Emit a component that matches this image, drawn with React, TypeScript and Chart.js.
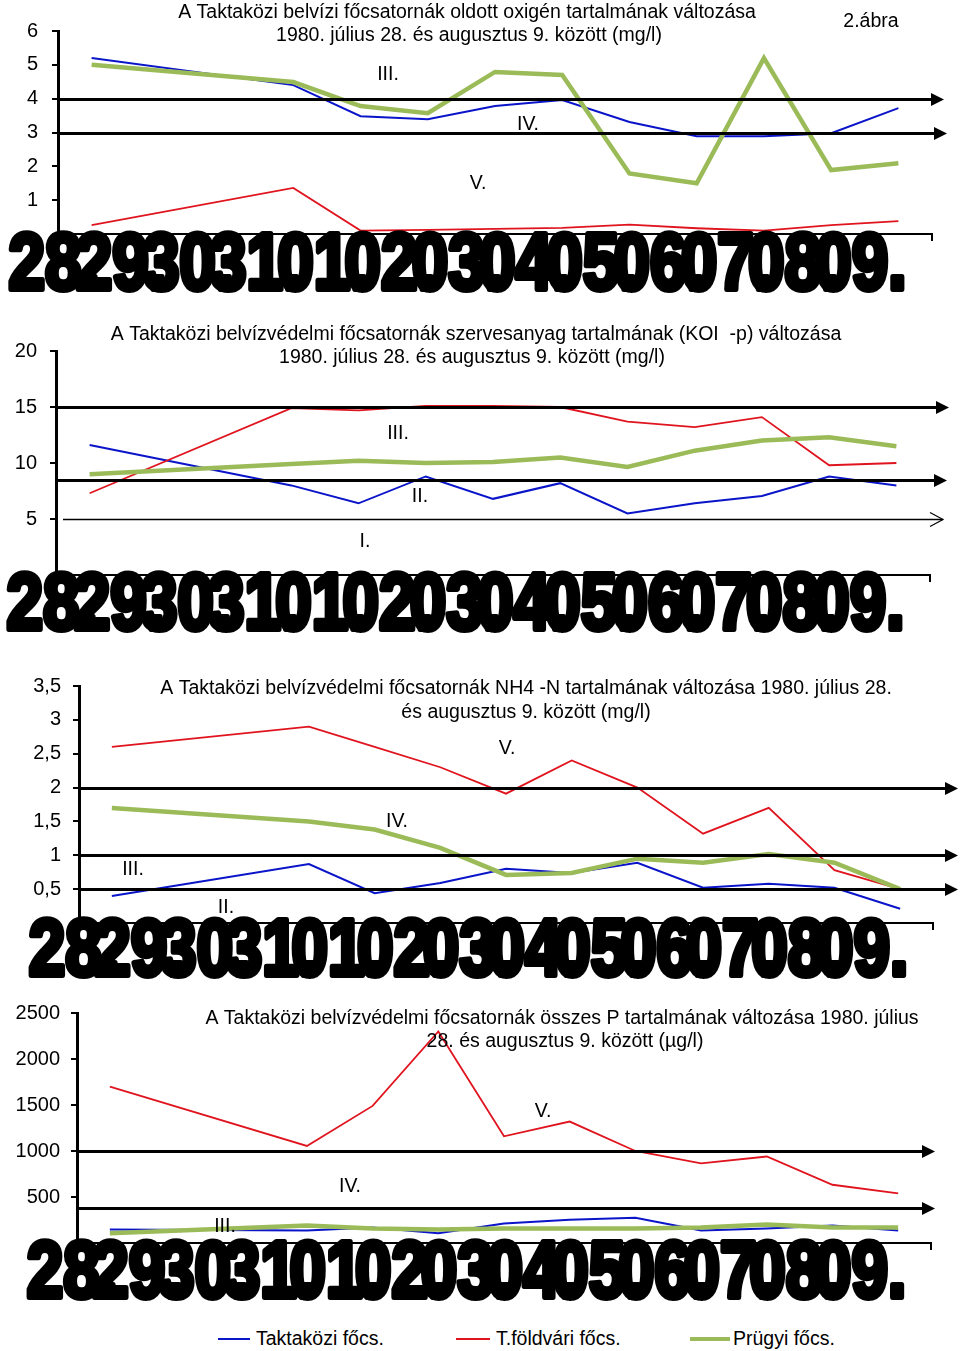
import React, { useEffect, useRef } from "react";
import { Chart, registerables } from "chart.js";
Chart.register(...registerables);

const FONT = "'Liberation Sans', Arial, sans-serif";

// 13 sampling days: 1980. júl. 28 – aug. 9
const dayLabels = ["28.", "29.", "30.", "31.", "01.", "02.", "03.", "04.", "05.", "06.", "07.", "08.", "09."];
const seriesNames = ["Taktaközi főcs.", "T.földvári főcs.", "Prügyi főcs."];

// Oldott oxigén (mg/l)
const o2Taktakozi = [5.2, null, null, 4.4, 3.48, 3.39, 3.78, 3.96, 3.31, 2.89, 2.89, 2.98, 3.72];
const o2Tfoldvari = [0.26, null, null, 1.36, 0.1, 0.12, 0.15, 0.18, 0.28, 0.17, 0.1, 0.26, 0.38];
const o2Prugyi = [5.0, null, null, 4.49, 3.78, 3.57, 4.79, 4.7, 1.79, 1.5, 5.2, 1.89, 2.09];

// KOI-p (mg/l)
const koiTaktakozi = [11.6, null, null, 8.0, 6.4, 8.8, 6.8, 8.2, 5.5, 6.4, 7.05, 8.8, 8.0];
const koiTfoldvari = [7.3, null, null, 14.9, 14.7, 15.1, 15.1, 15.0, 13.7, 13.2, 14.1, 9.8, 10.0];
const koiPrugyi = [9.0, null, null, 9.9, 10.2, 10.0, 10.1, 10.5, 9.65, 11.1, 12.0, 12.3, 11.5];

// NH4-N (mg/l)
const nh4Taktakozi = [0.4, null, null, 0.87, 0.44, 0.59, 0.8, 0.74, 0.89, 0.52, 0.58, 0.52, 0.21];
const nh4Tfoldvari = [2.6, null, null, 2.9, 2.6, 2.3, 1.91, 2.4, 2.0, 1.32, 1.7, 0.78, 0.5];
const nh4Prugyi = [1.7, null, null, 1.5, 1.38, 1.11, 0.71, 0.74, 0.95, 0.89, 1.02, 0.89, 0.5];

// összes P (µg/l)
const pTaktakozi = [148, null, null, 137, 169, 105, 211, 253, 274, 137, 158, 190, 137];
const pTfoldvari = [1700, null, null, 1055, 1490, 2300, 1160, 1320, 1000, 865, 940, 633, 540];
const pPrugyi = [105, null, null, 190, 158, 148, 158, 158, 158, 169, 200, 169, 169];

// class limits (I.–V.)
const o2Limits = [4, 3];
const koiLimits = [15, 8.5, 5];
const nh4Limits = [2, 1, 0.5];
const pLimits = [1000, 380];

const COLORS = { blue: "#0a14c8", red: "#e0141e", green: "#9bbb59" };

type Thr = { value: number; width: number; tip: number; open?: boolean; x0?: number };
type Txt = { text: string; x: number; y: number };
type Panel = {
  top: number; height: number; left: number; right: number; areaTop: number; areaBottom: number;
  yMax: number; yStep: number; tickPad: number;
  blue: (number | null)[]; red: (number | null)[]; green: (number | null)[];
  thresholds: Thr[]; titles: Txt[]; marks: Txt[]; bandBaseline: number;
};

const panels: Panel[] = [
  {
    top: 0, height: 300, left: 58, right: 932, areaTop: 31, areaBottom: 234,
    yMax: 6, yStep: 1, tickPad: 14,
    blue: o2Taktakozi, red: o2Tfoldvari, green: o2Prugyi,
    thresholds: [
      { value: o2Limits[0], width: 3, tip: 944 },
      { value: o2Limits[1], width: 3, tip: 947 },
    ],
    titles: [
      { text: "A Taktaközi belvízi főcsatornák oldott oxigén tartalmának változása", x: 467, y: 18 },
      { text: "1980. július 28. és augusztus 9. között (mg/l)", x: 469, y: 41 },
      { text: "2.ábra", x: 871, y: 27 },
    ],
    marks: [
      { text: "III.", x: 388, y: 80 },
      { text: "IV.", x: 528, y: 130 },
      { text: "V.", x: 478, y: 189 },
    ],
    bandBaseline: 289,
  },
  {
    top: 300, height: 345, left: 56, right: 930, areaTop: 351, areaBottom: 575,
    yMax: 20, yStep: 5, tickPad: 13,
    blue: koiTaktakozi, red: koiTfoldvari, green: koiPrugyi,
    thresholds: [
      { value: koiLimits[0], width: 3, tip: 949 },
      { value: koiLimits[1], width: 3, tip: 947 },
      { value: koiLimits[2], width: 1.3, tip: 943, open: true, x0: 63 },
    ],
    titles: [
      { text: "A Taktaközi belvízvédelmi főcsatornák szervesanyag tartalmának (KOI  -p) változása", x: 476, y: 339.5 },
      { text: "1980. július 28. és augusztus 9. között (mg/l)", x: 472, y: 362.5 },
    ],
    marks: [
      { text: "III.", x: 398, y: 439 },
      { text: "II.", x: 420, y: 502 },
      { text: "I.", x: 365, y: 547 },
    ],
    bandBaseline: 629,
  },
  {
    top: 650, height: 335, left: 79, right: 933, areaTop: 686, areaBottom: 923,
    yMax: 3.5, yStep: 0.5, tickPad: 12,
    blue: nh4Taktakozi, red: nh4Tfoldvari, green: nh4Prugyi,
    thresholds: [
      { value: nh4Limits[0], width: 3, tip: 958 },
      { value: nh4Limits[1], width: 3, tip: 958 },
      { value: nh4Limits[2], width: 3, tip: 958 },
    ],
    titles: [
      { text: "A Taktaközi belvízvédelmi főcsatornák NH4 -N tartalmának változása 1980. július 28.", x: 526, y: 693.5 },
      { text: "és augusztus 9. között (mg/l)", x: 526, y: 717.5 },
    ],
    marks: [
      { text: "V.", x: 507, y: 754 },
      { text: "IV.", x: 397, y: 827 },
      { text: "III.", x: 133, y: 875 },
      { text: "II.", x: 226, y: 913 },
    ],
    bandBaseline: 975,
  },
  {
    top: 990, height: 320, left: 77, right: 931, areaTop: 1006, areaBottom: 1243,
    yMax: 2500, yStep: 500, tickPad: 11,
    blue: pTaktakozi, red: pTfoldvari, green: pPrugyi,
    thresholds: [
      { value: pLimits[0], width: 3, tip: 935 },
      { value: pLimits[1], width: 3, tip: 935 },
    ],
    titles: [
      { text: "A Taktaközi belvízvédelmi főcsatornák összes P tartalmának változása 1980. július", x: 562, y: 1023.5 },
      { text: "28. és augusztus 9. között (µg/l)", x: 565, y: 1046.5 },
    ],
    marks: [
      { text: "V.", x: 543, y: 1117 },
      { text: "IV.", x: 350, y: 1192 },
      { text: "III.", x: 225, y: 1232 },
    ],
    bandBaseline: 1297,
  },
];

function PanelChart({ p }: { p: Panel }) {
  const ref = useRef<HTMLCanvasElement>(null);
  useEffect(() => {
    const canvas = ref.current!;
    const off = p.top;
    const overlay = {
      id: "overlay",
      afterDatasetsDraw(chart: any) {
        const ctx = chart.ctx;
        const ys = chart.scales.y;
        const area = chart.chartArea;
        ctx.save();
        ctx.strokeStyle = "#000";
        ctx.fillStyle = "#000";
        for (const t of p.thresholds) {
          const py = Math.round(ys.getPixelForValue(t.value)) + 0.5;
          const x0 = t.x0 ?? area.left;
          ctx.lineWidth = t.width;
          ctx.beginPath();
          ctx.moveTo(x0, py);
          ctx.lineTo(t.open ? t.tip : t.tip - 12, py);
          ctx.stroke();
          if (t.open) {
            ctx.lineWidth = 1.2;
            ctx.beginPath();
            ctx.moveTo(t.tip - 13, py - 7);
            ctx.lineTo(t.tip, py);
            ctx.lineTo(t.tip - 13, py + 7);
            ctx.stroke();
          } else {
            ctx.beginPath();
            ctx.moveTo(t.tip, py);
            ctx.lineTo(t.tip - 13, py - 6.5);
            ctx.lineTo(t.tip - 13, py + 6.5);
            ctx.closePath();
            ctx.fill();
          }
        }
        ctx.restore();
      },
      afterDraw(chart: any) {
        const ctx = chart.ctx;
        const xs = chart.scales.x;
        const area = chart.chartArea;
        ctx.save();
        // end tick of x axis
        ctx.strokeStyle = "#000";
        ctx.lineWidth = 2;
        ctx.beginPath();
        ctx.moveTo(area.right, area.bottom);
        ctx.lineTo(area.right, area.bottom + 7);
        ctx.stroke();
        // titles & class marks
        ctx.fillStyle = "#000";
        ctx.textAlign = "center";
        ctx.textBaseline = "alphabetic";
        ctx.font = `19.5px ${FONT}`;
        for (const t of p.titles) ctx.fillText(t.text, t.x, t.y - off);
        for (const t of p.marks) ctx.fillText(t.text, t.x, t.y - off);
        // oversized category labels
        ctx.font = `bold 80px ${FONT}`;
        ctx.textAlign = "right";
        ctx.lineWidth = 6;
        ctx.lineJoin = "round";
        dayLabels.forEach((lab, i) => {
          const x = xs.getPixelForValue(i);
          ctx.save();
          ctx.translate(x + 8, p.bandBaseline - off);
          ctx.scale(0.82, 1);
          ctx.strokeText(lab, 0, 0);
          ctx.fillText(lab, 0, 0);
          ctx.restore();
        });
        ctx.restore();
      },
    };
    const chart = new Chart(canvas, {
      type: "line",
      data: {
        labels: dayLabels,
        datasets: [
          { label: seriesNames[2], data: p.green, borderColor: COLORS.green, borderWidth: 4.5, pointRadius: 0, spanGaps: true },
          { label: seriesNames[1], data: p.red, borderColor: COLORS.red, borderWidth: 1.8, pointRadius: 0, spanGaps: true },
          { label: seriesNames[0], data: p.blue, borderColor: COLORS.blue, borderWidth: 2, pointRadius: 0, spanGaps: true },
        ],
      },
      options: {
        responsive: false,
        animation: false,
        devicePixelRatio: 1,
        layout: { padding: { left: 0, right: 960 - p.right, top: p.areaTop - p.top, bottom: 0 } },
        plugins: { legend: { display: false }, tooltip: { enabled: false }, title: { display: false } },
        scales: {
          x: {
            type: "category",
            offset: true,
            grid: { display: false },
            border: { display: true, color: "#000", width: 2 },
            ticks: { display: false },
            afterFit: (s: any) => { s.height = p.height - (p.areaBottom - p.top); },
          },
          y: {
            min: 0,
            max: p.yMax,
            ticks: {
              stepSize: p.yStep,
              color: "#000",
              padding: p.tickPad,
              font: { family: FONT, size: 20 },
              callback: (v: any) => (v === 0 ? "" : String(v).replace(".", ",")),
            },
            grid: { display: true, drawOnChartArea: false, drawTicks: true, tickLength: 6, color: "#000", lineWidth: 2 },
            border: { display: true, color: "#000", width: 3 },
            afterFit: (s: any) => { s.width = p.left; },
          },
        },
      } as any,
      plugins: [overlay],
    });
    return () => chart.destroy();
  }, [p]);
  return (
    <canvas
      ref={ref}
      width={960}
      height={p.height}
      style={{ position: "absolute", left: 0, top: p.top, width: 960, height: p.height }}
    />
  );
}

const legendItems = [
  { name: seriesNames[0], color: COLORS.blue, lineX: 218, lineW: 32, thick: 2, textX: 256 },
  { name: seriesNames[1], color: COLORS.red, lineX: 456, lineW: 34, thick: 2, textX: 496 },
  { name: seriesNames[2], color: COLORS.green, lineX: 690, lineW: 40, thick: 4, textX: 733 },
];

export default function App() {
  return (
    <div style={{ position: "absolute", left: 0, top: 0, width: 960, height: 1351, background: "#fff", overflow: "hidden" }}>
      {panels.map((p, i) => (
        <PanelChart key={i} p={p} />
      ))}
      {legendItems.map((it) => (
        <React.Fragment key={it.name}>
          <div style={{ position: "absolute", left: it.lineX, top: 1339 - it.thick / 2, width: it.lineW, height: it.thick, background: it.color }} />
          <span style={{ position: "absolute", left: it.textX, top: 1328, fontFamily: FONT, fontSize: 19.5, lineHeight: "20px", color: "#000", whiteSpace: "nowrap" }}>
            {it.name}
          </span>
        </React.Fragment>
      ))}
    </div>
  );
}
